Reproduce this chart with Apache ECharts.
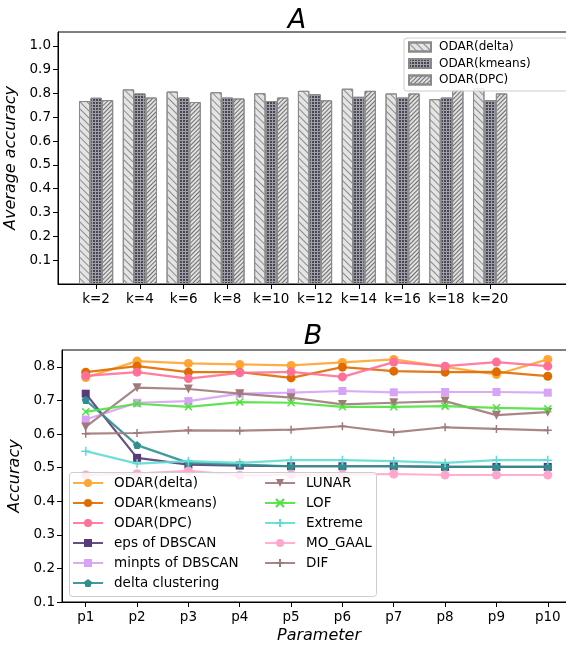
<!DOCTYPE html>
<html>
<head>
<meta charset="utf-8">
<script src="https://cdn.jsdelivr.net/npm/echarts@6/dist/echarts.min.js"></script>
<style>
html,body{margin:0;padding:0;background:#fff;}
#chart{width:566px;height:648px;}
</style>
</head>
<body>
<div id="chart"></div>
<script>
// ---------- Chart A data ----------
const kLabels = ['k=2','k=4','k=6','k=8','k=10','k=12','k=14','k=16','k=18','k=20'];
const barNames = ['ODAR(delta)','ODAR(kmeans)','ODAR(DPC)'];
const odarDeltaA  = [0.768,0.817,0.808,0.805,0.801,0.811,0.820,0.800,0.776,0.822];
const odarKmeansA = [0.782,0.800,0.783,0.783,0.768,0.797,0.786,0.783,0.783,0.772];
const odarDPCA    = [0.772,0.783,0.764,0.779,0.783,0.771,0.811,0.800,0.815,0.800];
const yTicksA = [0.1,0.2,0.3,0.4,0.5,0.6,0.7,0.8,0.9,1.0];

// ---------- Chart B data ----------
const pLabels = ['p1','p2','p3','p4','p5','p6','p7','p8','p9','p10'];
const yTicksB = [0.1,0.2,0.3,0.4,0.5,0.6,0.7,0.8];
const lineNames = ['ODAR(delta)','ODAR(kmeans)','ODAR(DPC)','eps of DBSCAN','minpts of DBSCAN','delta clustering','LUNAR','LOF','Extreme','MO_GAAL','DIF'];
const odarDelta   = [0.768,0.817,0.810,0.807,0.804,0.813,0.822,0.800,0.777,0.822];
const odarKmeans  = [0.784,0.802,0.784,0.784,0.767,0.799,0.787,0.784,0.785,0.772];
const odarDPC     = [0.773,0.784,0.765,0.782,0.785,0.770,0.814,0.802,0.814,0.802];
const epsDBSCAN   = [0.720,0.529,0.509,0.506,0.504,0.504,0.504,0.502,0.502,0.502];
const minptsDBSCAN= [0.643,0.693,0.698,0.720,0.723,0.728,0.724,0.725,0.725,0.723];
const deltaClust  = [0.701,0.567,0.514,0.509,0.504,0.504,0.504,0.502,0.502,0.502];
const lunar       = [0.621,0.738,0.734,0.720,0.708,0.688,0.693,0.698,0.656,0.665];
const lof         = [0.666,0.690,0.681,0.695,0.693,0.681,0.681,0.683,0.678,0.675];
const extreme     = [0.549,0.512,0.519,0.514,0.522,0.522,0.519,0.514,0.522,0.522];
const moGaal      = [0.478,0.482,0.490,0.477,0.479,0.479,0.481,0.478,0.478,0.478];
const dif         = [0.601,0.603,0.611,0.610,0.613,0.623,0.605,0.620,0.615,0.611];

const FONT = 'DejaVu Sans';
const chart = echarts.init(document.getElementById('chart'), null, {renderer:'canvas'});

const idx = pLabels.map((_, i) => i);
const kidx = kLabels.map((_, i) => i);
const toPts = arr => arr.map((v, i) => [i, v]);
// bar series get an invisible suffix so their legend does not collide with the line legend
const barSeriesNames = barNames.map(n => n + '\u200b');

const barEdge = '#8a8a8a';
const barStyles = [
  {color:'#e4e4e4', decal:{symbol:'rect', symbolSize:1, dashArrayX:[1,0], dashArrayY:[1,4], rotation:Math.PI/4, color:'#8c8c8c'}},
  {color:'#a0a0aa', decal:{symbol:'rect', symbolSize:1, dashArrayX:[2,1], dashArrayY:[2,1], rotation:0, color:'#474752'}},
  {color:'#e0e0e0', decal:{symbol:'rect', symbolSize:1, dashArrayX:[1,0], dashArrayY:[1,2], rotation:-Math.PI/4, color:'#6e6e6e'}}
];
const barData = [odarDeltaA, odarKmeansA, odarDPCA];

const xPath = 'path://M0,0L10,10M10,0L0,10';
const plusPath = 'path://M5,0L5,10M0,5L10,5';
const pentPath = 'path://M5,0L10,3.8L8.1,10L1.9,10L0,3.8Z';
const lineData = [odarDelta, odarKmeans, odarDPC, epsDBSCAN, minptsDBSCAN, deltaClust, lunar, lof, extreme, moGaal, dif];
const lineColors = ['#ffa533','#e06b00','#ff7098','#583b78','#d8a2f5','#2f8f8f','#a07a7a','#50e040','#60dcd4','#ffa6cc','#a07a7a'];
const lineSymbols = ['circle','circle','circle','rect','rect',pentPath,'triangle',xPath,plusPath,'circle',plusPath];
const symSizes = [9,9,9,8,8,8,9,7,9,9,8];
const symRot = [0,0,0,0,0,0,180,0,0,0,0];
const strokeOnly = [false,false,false,false,false,false,false,true,true,false,true];

const axisTxt = {color:'#000', fontFamily:FONT, fontSize:13.5};

const series = [];
barSeriesNames.forEach((name, s) => {
  series.push({
    name, type:'bar', xAxisIndex:0, yAxisIndex:0,
    barWidth:11.4, barGap:'0%',
    data: toPts(barData[s]),
    itemStyle:{color:barStyles[s].color, decal:barStyles[s].decal, borderColor:barEdge, borderWidth:1},
    emphasis:{disabled:true}
  });
});
lineNames.forEach((name, s) => {
  series.push({
    name, type:'line', xAxisIndex:1, yAxisIndex:1,
    data: toPts(lineData[s]),
    symbol: lineSymbols[s], symbolSize: symSizes[s], symbolRotate: symRot[s],
    showAllSymbol:true,
    lineStyle:{color:lineColors[s], width:2.2, opacity:0.9},
    itemStyle: strokeOnly[s] ? {color:lineColors[s], borderColor:lineColors[s], borderWidth:1.5} : {color:lineColors[s], borderWidth:0},
    z: 2 + s*0.01,
    emphasis:{disabled:true}
  });
});

const axisNameStyle = {fontFamily:FONT, fontStyle:'italic', fontSize:16, color:'#000'};
const lineLegendBase = {orient:'vertical', top:476, itemWidth:30, itemHeight:10, itemGap:6,
  padding:0, textStyle:{fontFamily:FONT, fontSize:13.5, color:'#000', padding:[0,0,0,6]}, selectedMode:false, z:20};

const option = {
  animation:false,
  backgroundColor:'#fff',
  textStyle:{fontFamily:FONT},
  title:[
    {text:'A', left:292, top:2, textAlign:'center', textStyle:{fontFamily:FONT, fontStyle:'italic', fontWeight:'normal', fontSize:27, color:'#000'}},
    {text:'B', left:308, top:318, textAlign:'center', textStyle:{fontFamily:FONT, fontStyle:'italic', fontWeight:'normal', fontSize:27, color:'#000'}}
  ],
  grid:[
    {left:58, top:32, right:-10, bottom:364, containLabel:false, outerBoundsMode:'none', show:true, borderColor:'#000', borderWidth:1, backgroundColor:'transparent'},
    {left:62, top:350, right:-10, bottom:46, containLabel:false, outerBoundsMode:'none', show:true, borderColor:'#000', borderWidth:1, backgroundColor:'transparent'}
  ],
  xAxis:[
    {type:'value', gridIndex:0, min:-0.87, max:10.96,
     axisLine:{show:true, onZero:false, lineStyle:{color:'#000'}},
     axisTick:{show:true, length:5, lineStyle:{color:'#000'}, customValues:kidx},
     axisLabel:{...axisTxt, margin:8, customValues:kidx, formatter:v => kLabels[Math.round(v)]},
     splitLine:{show:false}},
    {type:'value', gridIndex:1, min:-0.462, max:9.55,
     name:'Parameter', nameLocation:'middle', nameGap:26, nameTextStyle:axisNameStyle,
     axisLine:{show:true, onZero:false, lineStyle:{color:'#000'}},
     axisTick:{show:true, length:5, lineStyle:{color:'#000'}, customValues:idx},
     axisLabel:{...axisTxt, margin:8, customValues:idx, formatter:v => pLabels[Math.round(v)]},
     splitLine:{show:false}}
  ],
  yAxis:[
    {type:'value', gridIndex:0, min:0, max:1.058,
     name:'Average accuracy', nameLocation:'middle', nameGap:33, nameTextStyle:axisNameStyle,
     axisLine:{show:true, onZero:false, lineStyle:{color:'#000'}},
     axisTick:{show:true, length:5, lineStyle:{color:'#000'}, customValues:yTicksA},
     axisLabel:{...axisTxt, margin:7, customValues:yTicksA, formatter:v => v.toFixed(1)},
     splitLine:{show:false}},
    {type:'value', gridIndex:1, min:0.1, max:0.85,
     name:'Accuracy', nameLocation:'middle', nameGap:35, nameTextStyle:axisNameStyle,
     axisLine:{show:true, onZero:false, lineStyle:{color:'#000'}},
     axisTick:{show:true, length:5, lineStyle:{color:'#000'}, customValues:yTicksB},
     axisLabel:{...axisTxt, margin:7, customValues:yTicksB, formatter:v => v.toFixed(1)},
     splitLine:{show:false}}
  ],
  legend:[
    {data:barSeriesNames.map(n => ({name:n, icon:'rect'})), orient:'vertical', left:404, top:38, itemWidth:22, itemHeight:9, itemGap:4.5,
     padding:[3,45,5,4], backgroundColor:'rgba(255,255,255,0.85)', borderColor:'#cccccc', borderWidth:1, borderRadius:3,
     textStyle:{fontFamily:FONT, fontSize:12, color:'#000', padding:[0,0,0,3]}, selectedMode:false, z:20},
    {...lineLegendBase, data:lineNames.slice(0,6), left:72},
    {...lineLegendBase, data:lineNames.slice(6), left:264}
  ],
  graphic:[
    {type:'rect', z:15, shape:{x:69.5, y:472.5, width:307, height:124, r:3},
     style:{fill:'rgba(255,255,255,0.8)', stroke:'#cccccc', lineWidth:1}, silent:true}
  ],
  series
};
chart.setOption(option);
</script>
</body>
</html>
